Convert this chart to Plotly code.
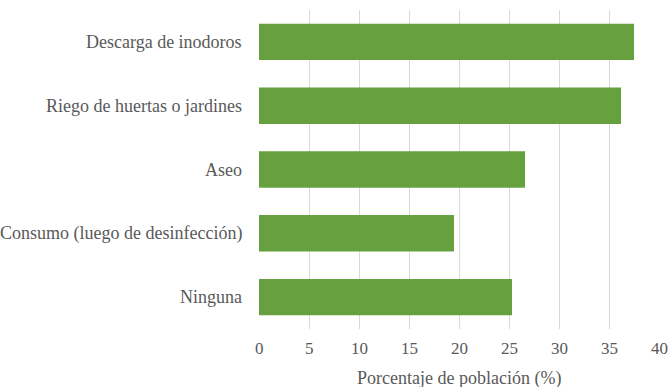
import plotly.graph_objects as go

# Uses of harvested rainwater, share of population (%)
usos = [
    "Descarga de inodoros",
    "Riego de huertas o jardines",
    "Aseo",
    "Consumo (luego de desinfección)",
    "Ninguna",
]
porcentaje = [37.5, 36.2, 26.6, 19.5, 25.3]

x_ticks = [0, 5, 10, 15, 20, 25, 30, 35, 40]
x_title = "Porcentaje de población (%)"

FONT = "Liberation Serif"
GRAY = "#595959"

fig = go.Figure(
    go.Bar(
        x=porcentaje,
        y=usos,
        orientation="h",
        marker=dict(color="#67a03f", line=dict(width=0)),
        width=0.57,
    )
)

fig.update_layout(
    width=670,
    height=387,
    margin=dict(l=259, r=11, t=10, b=58, autoexpand=False),
    paper_bgcolor="white",
    plot_bgcolor="white",
    showlegend=False,
)

fig.update_xaxes(
    range=[0, 40],
    tickvals=x_ticks,
    showticklabels=False,
    automargin=False,
    showgrid=True,
    gridcolor="#d9d9d9",
    gridwidth=1,
    zeroline=False,
    showline=False,
    ticks="",
)

fig.update_yaxes(
    categoryorder="array",
    categoryarray=list(reversed(usos)),
    showticklabels=False,
    automargin=False,
    showgrid=False,
    showline=False,
    ticks="",
)

# Category labels, placed on the y scale to the left of the bars
for u in usos:
    fig.add_annotation(
        x=0, xref="paper", y=u, yref="y",
        text=u, showarrow=False,
        xanchor="right", yanchor="middle", xshift=-15,
        font=dict(family=FONT, size=18, color=GRAY),
    )

# Numeric labels under the x grid
for t in x_ticks:
    fig.add_annotation(
        x=t, xref="x", y=0, yref="paper",
        text=str(t), showarrow=False,
        xanchor="center", yanchor="top", yshift=-8,
        font=dict(family=FONT, size=17, color=GRAY),
    )

# Axis title
fig.add_annotation(
    x=0.5, xref="paper", y=0, yref="paper",
    text=x_title, showarrow=False,
    xanchor="center", yanchor="middle", yshift=-49,
    font=dict(family=FONT, size=18, color=GRAY),
)

fig.write_html("out.html")
